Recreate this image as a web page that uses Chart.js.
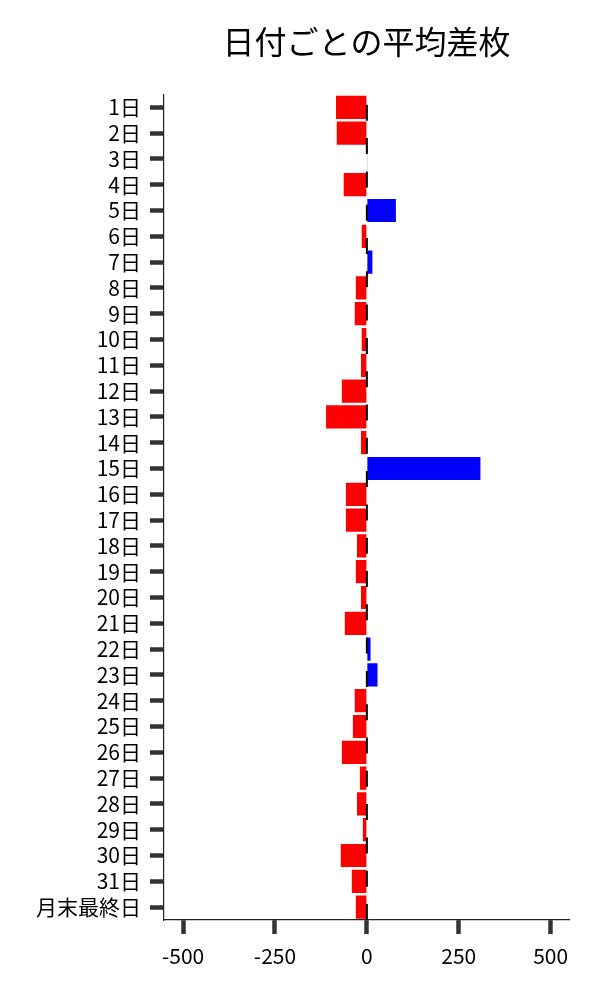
<!DOCTYPE html>
<html>
<head>
<meta charset="utf-8">
<script src="https://cdn.jsdelivr.net/npm/chart.js@4/dist/chart.umd.min.js"></script>
<style>
  body { margin: 0; background: #fff; }
</style>
</head>
<body>
<canvas id="chartSamai" width="600" height="1000"></canvas>
<script>
const dias = [
    '1日','2日','3日','4日','5日','6日','7日','8日','9日','10日',
    '11日','12日','13日','14日','15日','16日','17日','18日','19日','20日',
    '21日','22日','23日','24日','25日','26日','27日','28日','29日','30日',
    '31日','月末最終日'
];
const promedio = [
    -84, -82, 1, -63, 79, -14, 15, -30, -33, -14,
    -16, -68, -111, -16, 309, -57, -57, -27, -30, -16,
    -60, 10, 29, -33, -38, -68, -19, -27, -11, -71,
    -41, -30
];
const xTicks = [-500, -250, 0, 250, 500];

const fuente = '"Noto Sans CJK JP", "Noto Sans", sans-serif';

// línea discontinua en x = 0
const lineaCero = {
    id: 'lineaCero',
    afterDatasetsDraw(chart) {
        const { ctx, chartArea, scales } = chart;
        const x = scales.x.getPixelForValue(0);
        ctx.save();
        ctx.strokeStyle = '#000';
        ctx.lineWidth = 2;
        ctx.setLineDash([16, 17.3]);
        ctx.beginPath();
        ctx.moveTo(x, chartArea.bottom);
        ctx.lineTo(x, chartArea.top);
        ctx.stroke();
        ctx.restore();
    }
};

new Chart(document.getElementById('chartSamai'), {
    type: 'bar',
    data: {
        labels: dias,
        datasets: [{
            data: promedio,
            backgroundColor: promedio.map(v => v < 0 ? '#ff0000' : '#0000ff'),
            borderWidth: 0,
            barPercentage: 0.9,
            categoryPercentage: 1.0
        }]
    },
    options: {
        indexAxis: 'y',
        responsive: false,
        animation: false,
        layout: { padding: { left: 0, right: 31, top: 0, bottom: 0 } },
        plugins: {
            legend: { display: false },
            tooltip: { enabled: false },
            title: {
                display: true,
                fullSize: false,
                text: '日付ごとの平均差枚',
                color: '#000',
                font: { family: fuente, size: 32, weight: 'normal' },
                padding: { top: 23, bottom: 33 }
            }
        },
        scales: {
            x: {
                min: -552,
                max: 550,
                afterBuildTicks: s => { s.ticks = xTicks.map(v => ({ value: v })); },
                afterFit: s => { s.height = 80; },
                grid: {
                    drawOnChartArea: false,
                    tickLength: 14,
                    tickWidth: 4.5,
                    tickColor: '#333'
                },
                border: { display: true, color: '#222', width: 1.2 },
                ticks: {
                    color: '#000',
                    padding: 9,
                    font: { family: fuente, size: 21 }
                }
            },
            y: {
                afterFit: s => { s.width = 164; },
                grid: {
                    offset: false,
                    drawOnChartArea: false,
                    tickLength: 14,
                    tickWidth: 4.5,
                    tickColor: '#333'
                },
                border: { display: true, color: '#222', width: 1.2 },
                ticks: {
                    color: '#000',
                    padding: 9,
                    autoSkip: false,
                    font: { family: fuente, size: 21 }
                }
            }
        }
    },
    plugins: [lineaCero]
});
</script>
</body>
</html>
